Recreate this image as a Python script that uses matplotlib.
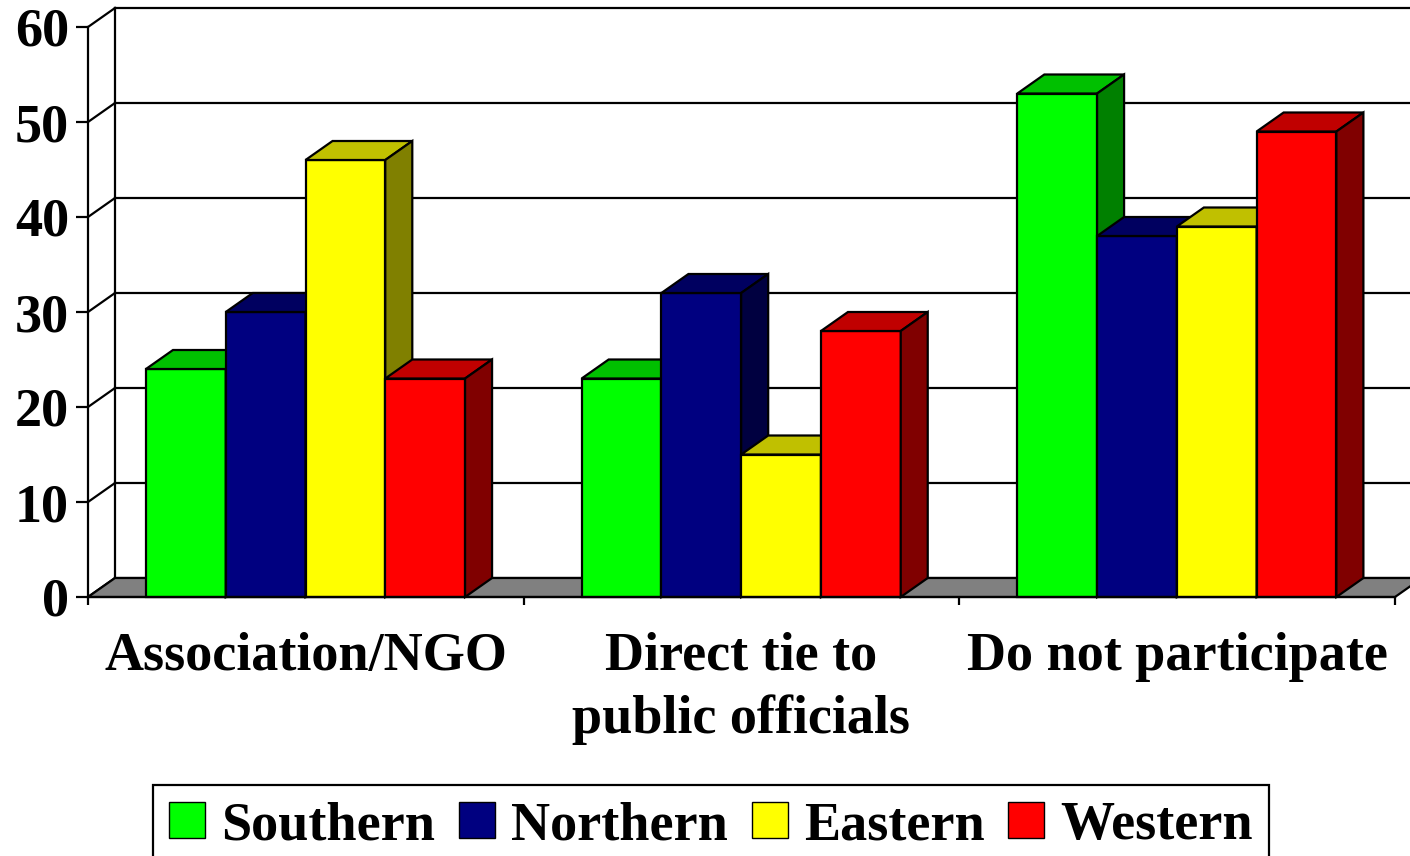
import matplotlib.pyplot as plt
from matplotlib.patches import Polygon, Patch

categories = ["Association/NGO", "Direct tie to\npublic officials", "Do not participate"]
regions = ["Southern", "Northern", "Eastern", "Western"]
southern = [24, 23, 53]
northern = [30, 32, 38]
eastern = [46, 15, 39]
western = [23, 28, 49]
series = [southern, northern, eastern, western]
yticks = [0, 10, 20, 30, 40, 50, 60]

# front, top and side shades for each region
front = ["#00ff00", "#000080", "#ffff00", "#ff0000"]
top = ["#00c000", "#000060", "#c0c000", "#c00000"]
side = ["#008000", "#000040", "#808000", "#800000"]

plt.rcParams['font.family'] = ['Liberation Serif', 'DejaVu Serif']
plt.rcParams['font.weight'] = 'bold'
FS = 39
LW = 1.6

fig = plt.figure(figsize=(14.1, 8.56), dpi=100)
W, H = 1410, 856
ax = fig.add_axes([88 / W, (H - 597) / H, (1395 - 88) / W, (597 - 27) / H])
ax.set_xlim(0, 3)
ax.set_ylim(0, 60)

# depth of the fake 3d box, in data units
DX = 27 / (1307 / 3)
DY = 19 / 9.5

# back wall, side wall gridlines and floor
for v in yticks:
    ax.plot([DX, 3 + 2 * DX], [v + DY, v + DY], color="black", lw=LW, clip_on=False, zorder=1)
    ax.plot([0, DX], [v, v + DY], color="black", lw=LW, clip_on=False, zorder=1)
ax.plot([DX, DX], [DY, 60 + DY], color="black", lw=LW, clip_on=False, zorder=1)
floor = Polygon([(0, 0), (3, 0), (3 + DX, DY), (DX, DY)], closed=True,
                facecolor="#808080", edgecolor="black", lw=LW, clip_on=False, zorder=2)
ax.add_patch(floor)

# bars
bw = 0.1831
off = 0.1331
z = 3
for i in range(len(categories)):
    for j, vals in enumerate(series):
        v = vals[i]
        x0 = i + off + j * bw
        x1 = x0 + bw
        faces = [
            ([(x0, 0), (x1, 0), (x1, v), (x0, v)], front[j]),
            ([(x0, v), (x1, v), (x1 + DX, v + DY), (x0 + DX, v + DY)], top[j]),
            ([(x1, 0), (x1 + DX, DY), (x1 + DX, v + DY), (x1, v)], side[j]),
        ]
        for pts, c in faces:
            ax.add_patch(Polygon(pts, closed=True, facecolor=c, edgecolor="black",
                                 lw=LW, joinstyle="miter", clip_on=False, zorder=z))
        z += 1

for s in ["top", "right"]:
    ax.spines[s].set_visible(False)
for s in ["left", "bottom"]:
    ax.spines[s].set_linewidth(LW)
    ax.spines[s].set_zorder(50)

ax.set_yticks(yticks)
ax.set_yticklabels([str(t) for t in yticks], fontsize=FS, fontweight="bold")
ax.tick_params(axis="y", direction="out", length=8.6, width=LW, pad=5)
ax.set_xticks([0, 1, 2, 3])
ax.set_xticklabels([])
ax.tick_params(axis="x", which="major", direction="out", length=6, width=LW)
ax.set_xticks([0.5, 1.5, 2.5], minor=True)
ax.set_xticklabels(categories, minor=True, fontsize=FS, fontweight="bold", linespacing=1.33)
ax.tick_params(axis="x", which="minor", length=0, pad=25)

handles = [Patch(facecolor=c, edgecolor="black", lw=1) for c in front]
leg = fig.legend(handles, regions, loc="upper left", bbox_to_anchor=(153 / W, (H - 785) / H),
                 ncol=4, fontsize=FS, frameon=True, fancybox=False, edgecolor="black",
                 framealpha=1, handlelength=0.66, handleheight=0.66, handletextpad=0.3,
                 columnspacing=0.44, borderpad=0.3, borderaxespad=0)
leg.get_frame().set_linewidth(LW)
for t in leg.get_texts():
    t.set_fontweight("bold")

fig.savefig("out.png", dpi=100)
